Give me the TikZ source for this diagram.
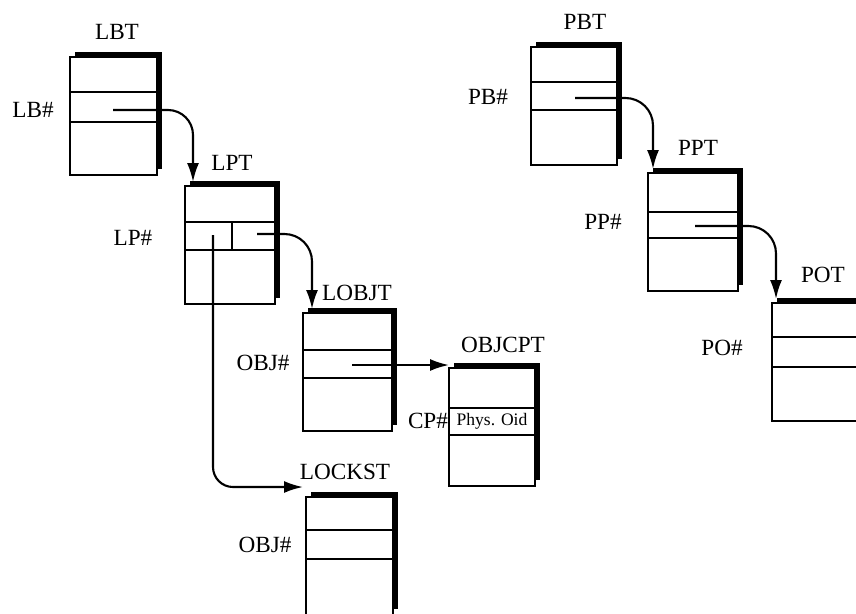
\documentclass[tikz,border=0pt]{standalone}
\usepackage{fontspec}
\setmainfont{Liberation Serif}
\usetikzlibrary{arrows.meta}
\begin{document}
\begin{tikzpicture}[font=\fontsize{13.2}{15}\selectfont, line width=1.2pt,
    tbl/.style={draw, anchor=north west, minimum height=2.36cm, inner sep=0pt, outer sep=0pt},
    shade/.style={line width=2.8pt},
    ttl/.style={inner sep=0pt},
    ptr/.style={-{Latex[length=0.38cm,width=0.24cm]}}]
  \useasboundingbox (0,0) rectangle (17.12,-12.26);
  \clip (0,0) rectangle (17.12,-12.26);
  % Tables: name / corner / width / two row lines below the top / title position.
  \foreach \n/\x/\y/\w/\a/\b/\tx/\ty in {LBT/1.40/-1.14/1.74/0.70/1.30/2.34/-0.64,
      LPT/3.70/-3.72/1.80/0.72/1.28/4.64/-3.26,
      LOBJT/6.06/-6.26/1.78/0.74/1.30/7.14/-5.86,
      OBJCPT/8.98/-7.36/1.72/0.80/1.34/10.06/-6.90,
      LOCKST/6.12/-9.94/1.74/0.66/1.24/6.90/-9.44,
      PBT/10.62/-0.94/1.72/0.70/1.26/11.70/-0.44,
      PPT/12.96/-3.46/1.80/0.78/1.30/13.96/-2.96,
      POT/15.44/-6.06/2.40/0.68/1.28/16.46/-5.50} {
    \node[tbl, minimum width=\w cm] (\n) at (\x,\y) {};
    \draw ([yshift=-\a cm]\n.north west) -- ([yshift=-\a cm]\n.north east);
    \draw ([yshift=-\b cm]\n.north west) -- ([yshift=-\b cm]\n.north east);
    \draw[shade] ([xshift=0.1cm,yshift=0.06cm]\n.north west) -- ([xshift=0.06cm,yshift=0.06cm]\n.north east)
      -- ([xshift=0.06cm,yshift=0.12cm]\n.south east);
    \node[ttl] (\n-t) at (\tx,\ty) {\n};
  }
  \draw ([xshift=0.94cm,yshift=-0.72cm]LPT.north west) -- ([xshift=0.94cm,yshift=-1.28cm]LPT.north west);
  \node[font=\fontsize{10}{12}\selectfont, inner sep=0pt] (oid) at (9.84,-8.43) {Phys. Oid};
  % key columns
  \node[ttl] (lb-l) at (0.66,-2.20) {LB\#};
  \node[ttl] (lp-l) at (2.66,-4.76) {LP\#};
  \node[ttl] (obj-l) at (5.26,-7.26) {OBJ\#};
  \node[ttl] (cp-l) at (8.56,-8.42) {CP\#};
  \node[ttl] (lock-l) at (5.30,-10.90) {OBJ\#};
  \node[ttl] (pb-l) at (9.76,-1.94) {PB\#};
  \node[ttl] (pp-l) at (12.06,-4.44) {PP\#};
  \node[ttl] (po-l) at (14.44,-6.96) {PO\#};
  % pointers
  \coordinate (lb-p) at (2.26,-2.20);
  \coordinate (lp-a) at (4.26,-4.70);
  \coordinate (lp-b) at (5.14,-4.68);
  \coordinate (lobj-p) at (7.04,-7.30);
  \coordinate (pb-p) at (11.50,-1.96);
  \coordinate (pp-p) at (13.90,-4.52);
  \draw[ptr, rounded corners=0.5cm] (lb-p) -| ([xshift=0.16cm,yshift=0.08cm]LPT.north west);
  \draw[ptr, rounded corners=0.55cm] (lp-b) -| ([xshift=0.18cm,yshift=0.08cm]LOBJT.north west);
  \draw[ptr, rounded corners=0.4cm] (lp-a) |- ([xshift=-0.06cm,yshift=0.2cm]LOCKST.north west);
  \draw[ptr] (lobj-p) -- (lobj-p -| OBJCPT.west);
  \draw[ptr, rounded corners=0.55cm] (pb-p) -| ([xshift=0.1cm,yshift=0.08cm]PPT.north west);
  \draw[ptr, rounded corners=0.55cm] (pp-p) -| ([xshift=0.08cm,yshift=0.08cm]POT.north west);
\end{tikzpicture}
\end{document}
